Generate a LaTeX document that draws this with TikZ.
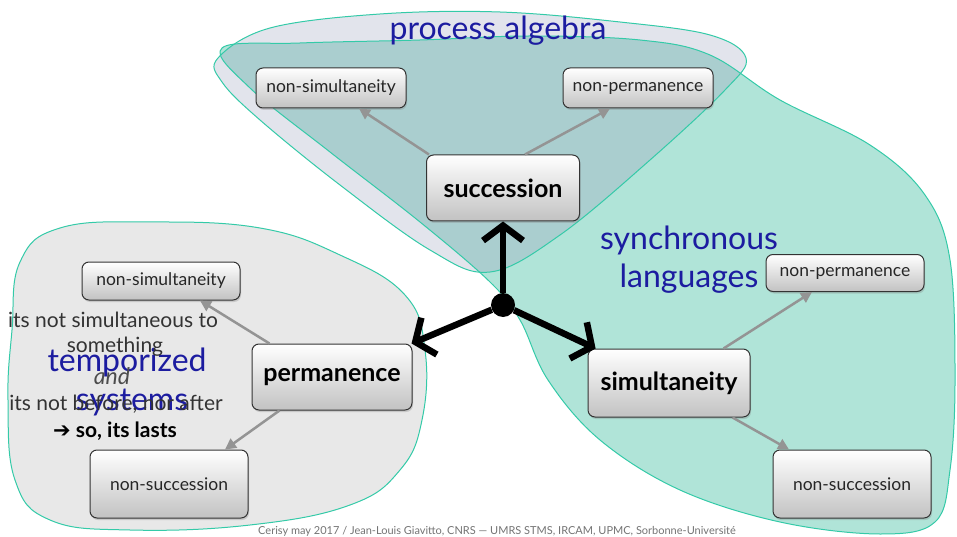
\documentclass[tikz,border=0pt]{standalone}
\usepackage{fontspec}
\setmainfont{Lato}
\newfontfamily\symfont{DejaVu Sans}
\usetikzlibrary{arrows.meta,shadows,calc}
\definecolor{blobline}{RGB}{52,202,168}
\definecolor{pafill}{RGB}{226,228,236}
\definecolor{slfill}{RGB}{176,228,216}
\definecolor{tsfill}{RGB}{232,232,232}
\definecolor{overlap}{RGB}{170,206,207}
\definecolor{tagblue}{RGB}{28,28,160}

\begin{document}
\begin{tikzpicture}[
  x=1pt, y=-1pt,
  blob/.style={draw=blobline, line width=1pt},
  box/.style={draw=black!80, rounded corners=7pt, line width=1pt,
              top color=white, bottom color=black!24,
              drop shadow={opacity=0.3, shadow xshift=1pt, shadow yshift=-2pt},
              minimum width=150pt, minimum height=40pt, inner sep=2pt,
              text=black!85, font=\fontsize{17.5}{20}\selectfont},
  bigbox/.style={box, minimum width=160pt, minimum height=66pt, text=black,
              font=\fontsize{25}{28}\selectfont\bfseries},
  grayarr/.style={-{Triangle[length=11pt,width=11pt]}, draw=black!42, line width=2.5pt},
  bigarr/.style={-{Straight Barb[length=15pt,width=40pt]}, line width=6.5pt},
  tag/.style={text=tagblue, font=\fontsize{32}{34}\selectfont},
  remark/.style={text=black!80, font=\fontsize{21}{23}\selectfont}
]
  \useasboundingbox (0,0) rectangle (957,537);

  % blobs
  \path[fill=tsfill] plot[smooth cycle, tension=0.7] coordinates {(12,330) (20,262) (60,228) (150,222) (260,228) (340,255) (405,295) (425,350) (422,420) (400,470) (350,505) (250,525) (130,530) (50,520) (15,480) (8,400)};
  \path[fill=slfill] plot[smooth cycle, tension=0.6] coordinates {(222,48) (300,43) (420,40) (530,36) (640,40) (710,55) (780,100) (870,145) (925,195) (950,260) (955,380) (950,470) (935,522) (880,534) (780,522) (680,490) (600,440) (548,380) (520,320) (490,282) (420,222) (330,152) (250,88)};
  \path[fill=pafill] plot[smooth cycle, tension=0.6] coordinates {(218,58) (270,28) (380,14) (500,12) (620,22) (710,35) (746,58) (725,90) (650,160) (560,235) (490,272) (430,250) (340,185) (260,120) (222,82)};
  \begin{scope}
    \clip plot[smooth cycle, tension=0.6] coordinates {(218,58) (270,28) (380,14) (500,12) (620,22) (710,35) (746,58) (725,90) (650,160) (560,235) (490,272) (430,250) (340,185) (260,120) (222,82)};
    \fill[overlap] plot[smooth cycle, tension=0.6] coordinates {(222,48) (300,43) (420,40) (530,36) (640,40) (710,55) (780,100) (870,145) (925,195) (950,260) (955,380) (950,470) (935,522) (880,534) (780,522) (680,490) (600,440) (548,380) (520,320) (490,282) (420,222) (330,152) (250,88)};
  \end{scope}
  \draw[blob] plot[smooth cycle, tension=0.7] coordinates {(12,330) (20,262) (60,228) (150,222) (260,228) (340,255) (405,295) (425,350) (422,420) (400,470) (350,505) (250,525) (130,530) (50,520) (15,480) (8,400)};
  \draw[blob] plot[smooth cycle, tension=0.6] coordinates {(222,48) (300,43) (420,40) (530,36) (640,40) (710,55) (780,100) (870,145) (925,195) (950,260) (955,380) (950,470) (935,522) (880,534) (780,522) (680,490) (600,440) (548,380) (520,320) (490,282) (420,222) (330,152) (250,88)};
  \draw[blob] plot[smooth cycle, tension=0.6] coordinates {(218,58) (270,28) (380,14) (500,12) (620,22) (710,35) (746,58) (725,90) (650,160) (560,235) (490,272) (430,250) (340,185) (260,120) (222,82)};

  % blob names
  \node[tag] (pa) at (498,31) {process algebra};
  \node[tag] (sl1) at (689,240) {synchronous};
  \node[tag] (sl2) at (689,279) {languages};
  \node[tag] (ts1) at (127,362) {temporized};
  \node[tag] (ts2) at (132,403) {systems};

  % remarks on permanence
  \node[remark] (r1) at (113,320) {its not simultaneous to};
  \node[remark] (r2) at (115,347) {something};
  \node[remark, text=black!70, font=\fontsize{23}{25}\selectfont\itshape] (r3) at (112,376) {and};
  \node[remark] (r4) at (116,404) {its not before, nor after};
  \node[remark, text=black, font=\fontsize{21}{23}\selectfont\bfseries] (r5) at (115,431) {{\symfont\mdseries ➔} so, its lasts};

  % boxes
  \node[bigbox, minimum width=153pt] (succ) at (503,188) {succession};
  \node[box] (pansim) at (331,88) {non-simultaneity};
  \node[box] (panperm) at (638,88) {non-permanence};
  \node[bigbox] (perm) at (332,377) {permanence};
  \node[box, minimum width=158pt, minimum height=38pt] (tsnsim) at (161,281) {non-simultaneity};
  \node[box, minimum width=158pt, minimum height=68pt] (tsnsucc) at (169,484) {non-succession};
  \node[bigbox, minimum width=162pt, minimum height=68pt] (sim) at (669,383) {simultaneity};
  \node[box, minimum width=158pt, minimum height=37pt] (slnperm) at (845,273) {non-permanence};
  \node[box, minimum width=158pt, minimum height=68pt] (slnsucc) at (852,484) {non-succession};

  % gray arrows
  \draw[grayarr] ([xshift=3pt]succ.north west) -- ([xshift=28pt]pansim.south);
  \draw[grayarr] ([xshift=-55pt]succ.north east) -- ([xshift=-28pt]panperm.south);
  \draw[grayarr] ([xshift=18pt]perm.north west) -- ([xshift=39pt]tsnsim.south);
  \draw[grayarr] ([xshift=28pt]perm.south west) -- ([xshift=56pt]tsnsucc.north);
  \draw[grayarr] ([xshift=-27pt]sim.north east) -- ([xshift=-33pt]slnperm.south);
  \draw[grayarr] ([xshift=-18pt]sim.south east) -- ([xshift=-63pt]slnsucc.north);

  % hub and black arrows
  \node[circle, fill=black, minimum size=24pt, inner sep=0pt] (hub) at (503,305) {};
  \draw[bigarr] (hub) -- (succ);
  \draw[bigarr] (hub) -- (perm);
  \draw[bigarr] (hub) -- (sim);

  % footer
  \node[text=black!55, font=\fontsize{11}{13}\selectfont] (foot) at (497,531)
    {Cerisy may 2017 / Jean-Louis Giavitto, CNRS — UMRS STMS, IRCAM, UPMC, Sorbonne-Université};
\end{tikzpicture}
\end{document}
